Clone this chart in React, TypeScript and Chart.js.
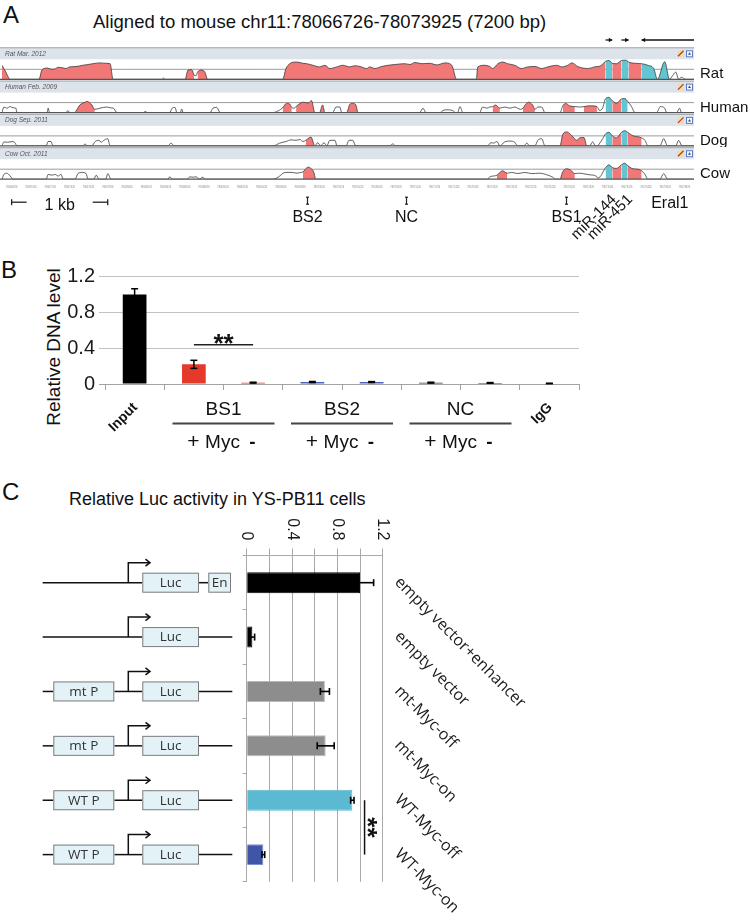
import React, { useEffect, useRef } from 'react';
import { Chart, registerables } from 'chart.js';

Chart.register(...registerables);

const SANS = '"Liberation Sans", Arial, Helvetica, sans-serif';
const OPEN = '"Open Sans", "Liberation Sans", sans-serif';
Chart.defaults.font.family = SANS;

// ================= Panel A data =================
const REGION_START = 78066726;
const REGION_LENGTH = 7200;
const SPECIES = ['Rat', 'Human', 'Dog', 'Cow'];
const ASSEMBLIES = ['Rat Mar. 2012', 'Human Feb. 2009', 'Dog Sep. 2011', 'Cow Oct. 2011'];

// [bp, % identity]
const RAT_CONS: number[][] = [
  [0, 85], [40, 68], [85, 50], [385, 50], [415, 73], [470, 78], [520, 75], [550, 76], [585, 80], [625, 79], [665, 77], [705, 81], [770, 82], [840, 85], [895, 87], [945, 89], [1020, 91], [1080, 90], [1125, 89], [1155, 50],
  [1665, 50], [1680, 53], [1695, 50],
  [1905, 50], [1935, 73], [1975, 74], [2000, 60], [2020, 59], [2035, 68], [2075, 73], [2110, 68], [2140, 50],
  [2920, 50], [2955, 77], [2995, 89], [3045, 93], [3100, 92], [3130, 90], [3170, 89], [3235, 85], [3305, 81], [3360, 85], [3410, 77], [3485, 81], [3545, 85], [3620, 81], [3670, 84], [3725, 82], [3795, 77], [3825, 81], [3880, 77], [3950, 82], [4015, 85], [4090, 87], [4190, 89], [4245, 87], [4295, 92], [4370, 89], [4450, 90], [4525, 86], [4610, 91], [4680, 85], [4730, 50],
  [4935, 50], [4950, 81], [5025, 85], [5075, 82], [5105, 77], [5160, 89], [5210, 93], [5260, 89], [5335, 85], [5405, 77], [5470, 81], [5545, 82], [5615, 77], [5680, 81], [5770, 85], [5825, 81], [5885, 85], [5930, 91], [5990, 82], [6095, 77], [6165, 81], [6230, 84], [6280, 95], [6315, 97], [6350, 90], [6395, 89], [6445, 97], [6490, 98], [6520, 93], [6585, 90], [6655, 89], [6720, 85], [6780, 77], [6820, 50], [6895, 94], [6945, 50], [6980, 60], [7010, 68], [7040, 50], [7070, 55], [7115, 50], [7200, 50],
];
const RAT_PINK: number[][] = [[0, 85], [385, 1155], [1905, 2000], [2035, 2140], [2920, 4730], [4935, 6280], [6350, 6445], [6520, 6655]];
const RAT_CYAN: number[][] = [[6280, 6350], [6445, 6520], [6655, 6945]];

const HUMAN_CONS: number[][] = [
  [0, 50], [20, 64], [50, 61], [85, 65], [115, 62], [145, 61], [155, 50],
  [470, 50], [480, 61], [495, 50], [665, 50], [685, 55], [705, 50],
  [750, 50], [770, 54], [810, 69], [865, 76], [885, 78], [935, 69], [965, 58], [1020, 61], [1090, 64], [1125, 62], [1160, 61], [1195, 50],
  [1470, 50], [1490, 53], [1510, 50],
  [1745, 50], [1770, 61], [1800, 63], [1820, 50], [1855, 50], [1870, 59], [1885, 50],
  [2165, 50], [2195, 61], [2235, 63], [2270, 50],
  [2820, 50], [2870, 54], [2900, 58], [2920, 62], [2960, 73], [2995, 71], [3015, 63], [3035, 61], [3060, 65], [3100, 73], [3135, 76], [3185, 74], [3220, 80], [3255, 50], [3305, 50], [3335, 69], [3360, 50],
  [3440, 50], [3475, 64], [3515, 64], [3535, 50], [3585, 50], [3620, 71], [3650, 73], [3680, 70], [3705, 50],
  [4345, 50], [4380, 61], [4410, 50],
  [4560, 50], [4585, 55], [4630, 57], [4690, 55], [4720, 50], [4740, 50], [4765, 65], [4795, 50],
  [4970, 50], [5000, 64], [5045, 61], [5075, 64], [5105, 65], [5135, 69], [5180, 61], [5230, 64], [5285, 61], [5335, 64], [5365, 61], [5395, 58], [5420, 61], [5450, 71], [5480, 76], [5520, 69], [5545, 58], [5575, 64], [5615, 64], [5650, 50],
  [5805, 50], [5835, 67], [5865, 73], [5905, 67], [5960, 65], [6010, 64], [6055, 65], [6115, 67], [6190, 65], [6220, 55], [6250, 62], [6280, 85], [6315, 88], [6350, 80], [6395, 73], [6445, 84], [6480, 85], [6510, 78], [6550, 65], [6585, 50],
  [6810, 50], [6850, 65], [6895, 61], [6915, 50], [7020, 50], [7050, 61], [7070, 50], [7200, 50],
];
const HUMAN_PINK: number[][] = [[770, 965], [2920, 3015], [3060, 3255], [3305, 3360], [3585, 3705], [5105, 5180], [5420, 5545], [5835, 5960], [6055, 6190], [6350, 6445]];
const HUMAN_CYAN: number[][] = [[6280, 6350], [6445, 6510]];

const DOG_CONS: number[][] = [
  [0, 50], [20, 60], [60, 59], [105, 61], [135, 58], [155, 50],
  [460, 50], [480, 61], [510, 61], [530, 50], [845, 50], [865, 55], [885, 50],
  [935, 50], [970, 61], [1010, 64], [1030, 59], [1060, 64], [1100, 68], [1125, 50],
  [1725, 50], [1760, 57], [1790, 50],
  [2820, 50], [2890, 57], [2955, 61], [3005, 65], [3060, 64], [3100, 66], [3130, 61], [3160, 64], [3195, 70], [3215, 72], [3255, 50], [3285, 58], [3315, 50], [3350, 58], [3380, 50], [3410, 64], [3465, 64], [3485, 50],
  [3580, 50], [3610, 64], [3650, 64], [3680, 50], [4035, 50], [4065, 55], [4095, 50],
  [5055, 50], [5085, 58], [5115, 57], [5150, 61], [5180, 50], [5230, 60], [5285, 62], [5335, 59], [5365, 50], [5430, 50], [5460, 57], [5490, 50], [5545, 50], [5575, 64], [5615, 68], [5650, 50],
  [5805, 50], [5835, 79], [5875, 85], [5915, 79], [5950, 70], [5980, 64], [6010, 70], [6055, 71], [6085, 50], [6115, 50], [6145, 60], [6175, 50], [6195, 50], [6220, 57], [6250, 68], [6280, 80], [6315, 84], [6350, 75], [6395, 70], [6445, 84], [6480, 88], [6510, 84], [6565, 75], [6615, 73], [6655, 70], [6690, 64], [6720, 50],
  [6845, 50], [6885, 68], [6925, 50], [7010, 50], [7040, 64], [7075, 50], [7200, 50],
];
const DOG_PINK: number[][] = [[3160, 3255], [5805, 6085], [6350, 6445], [6510, 6655]];
const DOG_CYAN: number[][] = [[6280, 6350], [6445, 6510]];

const COW_CONS: number[][] = [
  [0, 50], [20, 62], [50, 65], [85, 58], [115, 50],
  [460, 50], [480, 62], [520, 60], [550, 62], [585, 58], [615, 62], [635, 50],
  [760, 50], [790, 64], [830, 67], [875, 64], [895, 50], [955, 50], [980, 60], [1010, 50], [1080, 50], [1100, 64], [1135, 50],
  [1725, 50], [1745, 56], [1770, 50],
  [1925, 50], [1955, 56], [1985, 55], [2020, 56], [2050, 50], [2090, 55], [2110, 50],
  [2820, 50], [2890, 58], [2925, 65], [2965, 67], [3015, 67], [3070, 65], [3110, 67], [3130, 68], [3160, 76], [3185, 80], [3215, 77], [3245, 67], [3265, 50],
  [5055, 50], [5075, 56], [5115, 58], [5150, 60], [5180, 67], [5210, 71], [5255, 65], [5305, 67], [5365, 64], [5440, 67], [5510, 64], [5595, 65], [5680, 60], [5730, 55], [5760, 50],
  [5805, 50], [5835, 69], [5875, 76], [5915, 73], [5960, 64], [6010, 65], [6065, 63], [6115, 61], [6180, 58], [6200, 53], [6230, 58], [6260, 71], [6280, 79], [6315, 86], [6350, 79], [6395, 77], [6445, 86], [6480, 90], [6510, 84], [6565, 76], [6615, 75], [6655, 71], [6690, 62], [6720, 50],
  [6845, 50], [6885, 64], [6925, 50], [7200, 50],
];
const COW_PINK: number[][] = [[3130, 3265], [5150, 5255], [5805, 5960], [6350, 6445], [6510, 6655]];
const COW_CYAN: number[][] = [[6280, 6350], [6445, 6510]];

const GENE_NAMES = ['miR-144', 'miR-451', 'Eral1'];
const GENE_STARTS = [6280, 6445, 6655];
const GENE_ENDS = [6350, 6520, 7200];
const GENE_STRANDS = [1, 1, -1];

const SITE_NAMES = ['BS2', 'NC', 'BS1'];
const SITE_POSITIONS = [3173, 4200, 5868];

const A_TICK_POSITIONS = [100, 300, 500, 700, 900, 1100, 1300, 1500, 1700, 1900, 2100, 2300, 2500, 2700, 2900, 3100, 3300, 3500, 3700, 3900, 4100, 4300, 4500, 4700, 4900, 5100, 5300, 5500, 5700, 5900, 6100, 6300, 6500, 6700, 6900, 7100];
const SCALE_BAR_BP = [100, 1100];

const PINK = '#f27878';
const CYAN = '#62c6d2';

const TRACKS = [
  { cons: RAT_CONS, pink: RAT_PINK, cyan: RAT_CYAN },
  { cons: HUMAN_CONS, pink: HUMAN_PINK, cyan: HUMAN_CYAN },
  { cons: DOG_CONS, pink: DOG_PINK, cyan: DOG_CYAN },
  { cons: COW_CONS, pink: COW_PINK, cyan: COW_CYAN },
];
const TRACK_LAYOUT = [
  { top: 30, height: 51, padTop: 29.3, padBottom: 1.7 },
  { top: 80, height: 34, padTop: 12.6, padBottom: 1.4 },
  { top: 113, height: 34, padTop: 12.9, padBottom: 1.1 },
  { top: 146, height: 104, padTop: 13.2, padBottom: 70.8 },
];

// ================= Panel B data =================
const B_CATEGORIES = ['Input', 'BS1 +Myc', 'BS1 -Myc', 'BS2 +Myc', 'BS2 -Myc', 'NC +Myc', 'NC -Myc', 'IgG'];
const B_VALUES = [1.0, 0.22, 0.015, 0.022, 0.022, 0.015, 0.012, 0.006];
const B_ERRORS = [0.065, 0.045, 0.005, 0.006, 0.005, 0.005, 0.004, 0.003];
const B_COLORS = ['#000000', '#e5392b', '#e5392b', '#4b60c0', '#4b60c0', '#3a3a3a', '#3a3a3a', '#8a8a8a'];
const B_TICK_LABELS = [0, 0.4, 0.8, 1.2];
const B_GROUP_LABELS = ['BS1', 'BS2', 'NC'];
const B_GROUP_FIRST = [1, 3, 5];
const B_ROTATED_TEXT = ['Input', 'IgG'];
const B_ROTATED_INDEX = [0, 7];
const B_SIG_FROM = 1;
const B_SIG_TO = 2;
const B_SIG_LEVEL = 0.44;

// ================= Panel C data =================
const C_CATEGORIES = ['empty vector+enhancer', 'empty vector', 'mt-Myc-off', 'mt-Myc-on', 'WT-Myc-off', 'WT-Myc-on'];
const C_VALUES = [1.0, 0.05, 0.69, 0.697, 0.932, 0.147];
const C_ERRORS = [0.12, 0.02, 0.04, 0.075, 0.015, 0.012];
const C_COLORS = ['#000000', '#000000', '#8d8d8d', '#8d8d8d', '#5bbad1', '#3f56a8'];
const C_BORDERS = ['#000000', '#000000', '#b8b8b8', '#b8b8b8', '#5bbad1', '#7d8fd0'];
const C_PROMOTERS = ['', '', 'mt P', 'mt P', 'WT P', 'WT P'];
const C_ENHANCER = [true, false, false, false, false, false];
const C_TICK_LABELS = [0, 0.4, 0.8, 1.2];
const C_SIG_FROM = 4;
const C_SIG_TO = 5;
const C_SIG_LEVEL = 1.04;

// ================= helpers =================
function inRegions(x0: number, x1: number, regs: number[][]) {
  return regs.some(([s, e]) => x0 >= s && x1 <= e);
}
function segmentFill(pink: number[][], cyan: number[][]) {
  return (ctx: any) => {
    const x0 = ctx.p0.parsed.x;
    const x1 = ctx.p1.parsed.x;
    if (inRegions(x0, x1, cyan)) return CYAN;
    if (inRegions(x0, x1, pink)) return PINK;
    return 'rgba(255,255,255,0)';
  };
}
function hline(ctx: any, x0: number, y0: number, x1: number, y1: number) {
  ctx.beginPath();
  ctx.moveTo(x0, y0);
  ctx.lineTo(x1, y1);
  ctx.stroke();
}

function trackPlugin(i: number) {
  return {
    id: 'track' + i,
    beforeDatasetsDraw(chart: any) {
      const { ctx, chartArea: a, scales } = chart;
      const top = a.top - 12;
      ctx.save();
      ctx.fillStyle = '#dde3ea';
      ctx.fillRect(0, top, a.right, 12);
      ctx.fillStyle = '#a2a7ad';
      ctx.fillRect(0, top, a.right, 1);
      ctx.font = `italic 6.5px ${SANS}`;
      ctx.fillStyle = '#555';
      ctx.textAlign = 'left';
      ctx.textBaseline = 'alphabetic';
      ctx.fillText(ASSEMBLIES[i], 5, top + 8.5);
      // icons
      const ix = a.right - 17;
      ctx.fillStyle = '#f1dcb2';
      ctx.fillRect(ix, top + 3, 7, 7);
      ctx.strokeStyle = '#b23b1c';
      ctx.lineWidth = 1.3;
      hline(ctx, ix + 1, top + 9, ix + 6.5, top + 3.5);
      ctx.fillStyle = '#f6f8fc';
      ctx.fillRect(a.right - 8, top + 3, 7, 7);
      ctx.strokeStyle = '#5b7cc0';
      ctx.lineWidth = 1;
      ctx.strokeRect(a.right - 7.5, top + 3.5, 6, 6);
      ctx.fillStyle = '#2b4c94';
      ctx.beginPath();
      ctx.moveTo(a.right - 6, top + 7.5);
      ctx.lineTo(a.right - 3, top + 7.5);
      ctx.lineTo(a.right - 4.5, top + 5);
      ctx.closePath();
      ctx.fill();
      // 75% line
      const ym = scales.y.getPixelForValue(75);
      ctx.strokeStyle = '#9b9b9b';
      ctx.lineWidth = 1;
      hline(ctx, 0, ym, a.right, ym);
      ctx.restore();
    },
    afterDatasetsDraw(chart: any) {
      const { ctx, chartArea: a, scales } = chart;
      const yb = scales.y.getPixelForValue(50);
      ctx.save();
      ctx.strokeStyle = '#555';
      ctx.lineWidth = 1.3;
      hline(ctx, 0, yb, a.right, yb);
      ctx.restore();
    },
    afterDraw(chart: any) {
      const { ctx, chartArea: a, scales } = chart;
      const xs = scales.x;
      ctx.save();
      ctx.fillStyle = '#111';
      ctx.font = `15px ${SANS}`;
      ctx.textAlign = 'left';
      ctx.textBaseline = 'alphabetic';
      ctx.fillText(SPECIES[i], a.right + 6, a.bottom - 1);
      if (i === 0) {
        const ya = a.top - 19.3;
        ctx.strokeStyle = '#111';
        ctx.fillStyle = '#111';
        ctx.lineWidth = 1.3;
        GENE_NAMES.forEach((_, g) => {
          const x0 = xs.getPixelForValue(GENE_STARTS[g]);
          const x1 = xs.getPixelForValue(GENE_ENDS[g]);
          hline(ctx, x0, ya, x1, ya);
          const hx = GENE_STRANDS[g] > 0 ? x1 : x0;
          const d = GENE_STRANDS[g] > 0 ? -3.5 : 3.5;
          ctx.beginPath();
          ctx.moveTo(hx, ya);
          ctx.lineTo(hx + d, ya - 2.2);
          ctx.lineTo(hx + d, ya + 2.2);
          ctx.closePath();
          ctx.fill();
        });
      }
      if (i === 3) {
        const b = a.bottom;
        // coordinate tick labels
        ctx.fillStyle = '#8a8a8a';
        ctx.font = `2.6px ${SANS}`;
        ctx.textAlign = 'center';
        A_TICK_POSITIONS.forEach((p) => ctx.fillText(String(REGION_START + p), xs.getPixelForValue(p), b + 9));
        // binding sites
        ctx.strokeStyle = '#222';
        ctx.fillStyle = '#111';
        ctx.lineWidth = 1.2;
        ctx.font = `16px ${SANS}`;
        SITE_NAMES.forEach((n, s) => {
          const px = Math.round(xs.getPixelForValue(SITE_POSITIONS[s])) + 0.5;
          hline(ctx, px, b + 18, px, b + 25);
          hline(ctx, px - 1.5, b + 18, px + 1.5, b + 18);
          hline(ctx, px - 1.5, b + 25, px + 1.5, b + 25);
          ctx.fillText(n, px, b + 42.5);
        });
        // scale bar
        const sy = b + 23;
        const s0 = xs.getPixelForValue(SCALE_BAR_BP[0]);
        const s1 = xs.getPixelForValue(SCALE_BAR_BP[1]);
        ctx.lineWidth = 1.3;
        hline(ctx, s0, sy, s0 + 15, sy);
        hline(ctx, s0, sy - 3, s0, sy + 3);
        hline(ctx, s1 - 15, sy, s1, sy);
        hline(ctx, s1, sy - 3, s1, sy + 3);
        ctx.fillText('1 kb', (s0 + s1) / 2, b + 31);
        // gene labels
        ctx.font = `15px ${SANS}`;
        GENE_NAMES.forEach((n, g) => {
          const c = xs.getPixelForValue((GENE_STARTS[g] + GENE_ENDS[g]) / 2);
          if (GENE_ENDS[g] - GENE_STARTS[g] < 200) {
            ctx.save();
            ctx.translate(c + 8, b + 21);
            ctx.rotate(-Math.PI / 4);
            ctx.textAlign = 'right';
            ctx.fillText(n, 0, 0);
            ctx.restore();
          } else {
            ctx.font = `16px ${SANS}`;
            ctx.textAlign = 'center';
            ctx.fillText(n, c + 2, b + 29);
          }
        });
      }
      ctx.restore();
    },
  };
}

function trackConfig(i: number): any {
  const t = TRACKS[i];
  const L = TRACK_LAYOUT[i];
  return {
    type: 'line',
    data: {
      datasets: [
        {
          data: t.cons.map(([x, y]) => ({ x, y })),
          borderColor: '#3a3a3a',
          borderWidth: 0.8,
          pointRadius: 0,
          fill: 'start',
          backgroundColor: 'rgba(0,0,0,0)',
          cubicInterpolationMode: 'monotone',
          segment: { backgroundColor: segmentFill(t.pink, t.cyan) },
        },
      ],
    },
    options: {
      animation: false,
      responsive: false,
      events: [],
      layout: { padding: { left: 2, right: 56, top: L.padTop, bottom: L.padBottom } },
      scales: {
        x: { type: 'linear', min: 0, max: REGION_LENGTH, display: false },
        y: { type: 'linear', min: 50, max: 100, display: false },
      },
      plugins: { legend: { display: false }, tooltip: { enabled: false } },
    },
    plugins: [trackPlugin(i)],
  };
}

const chipPlugin = {
  id: 'chipDecor',
  afterDatasetsDraw(chart: any) {
    const { ctx, scales } = chart;
    const { x, y } = scales;
    ctx.save();
    ctx.strokeStyle = '#000';
    ctx.lineWidth = 1.5;
    B_VALUES.forEach((v, i) => {
      const cx = x.getPixelForValue(i);
      const yt = y.getPixelForValue(v + B_ERRORS[i]);
      const yb = y.getPixelForValue(Math.max(0, v - B_ERRORS[i]));
      hline(ctx, cx, yt, cx, yb);
      hline(ctx, cx - 3.5, yt, cx + 3.5, yt);
      hline(ctx, cx - 3.5, yb, cx + 3.5, yb);
    });
    ctx.restore();
  },
  afterDraw(chart: any) {
    const { ctx, chartArea: a, scales } = chart;
    const { x, y } = scales;
    ctx.save();
    ctx.fillStyle = '#111';
    ctx.strokeStyle = '#222';
    // significance
    const ys = y.getPixelForValue(B_SIG_LEVEL);
    const x0 = x.getPixelForValue(B_SIG_FROM);
    const x1 = x.getPixelForValue(B_SIG_TO);
    ctx.lineWidth = 1.5;
    hline(ctx, x0, ys, x1, ys);
    ctx.font = `bold 26px ${SANS}`;
    ctx.textAlign = 'center';
    ctx.textBaseline = 'middle';
    ctx.fillText('**', (x0 + x1) / 2, ys + 0.5);
    ctx.textBaseline = 'alphabetic';
    // rotated single labels
    ctx.font = `bold 14px ${SANS}`;
    B_ROTATED_TEXT.forEach((t, k) => {
      const cx = x.getPixelForValue(B_ROTATED_INDEX[k]);
      ctx.save();
      ctx.translate(cx + 3.5, a.bottom + 24);
      ctx.rotate(-Math.PI / 4);
      ctx.textAlign = 'right';
      ctx.fillText(t, 0, 0);
      ctx.restore();
    });
    // grouped labels
    B_GROUP_LABELS.forEach((g, k) => {
      const c = (x.getPixelForValue(B_GROUP_FIRST[k]) + x.getPixelForValue(B_GROUP_FIRST[k] + 1)) / 2;
      ctx.font = `19px ${SANS}`;
      ctx.textAlign = 'center';
      ctx.fillText(g, c, a.bottom + 31.3);
      ctx.strokeStyle = '#444';
      ctx.lineWidth = 2;
      hline(ctx, c - 51, a.bottom + 39.5, c + 51, a.bottom + 39.5);
      ctx.font = `21px ${SANS}`;
      ctx.fillText('+', c - 30, a.bottom + 63.5);
      ctx.font = `19px ${SANS}`;
      ctx.fillText('Myc', c - 1, a.bottom + 63.5);
      ctx.font = `bold 19px ${SANS}`;
      ctx.fillText('-', c + 29, a.bottom + 63.5);
    });
    ctx.restore();
  },
};

function chipConfig(): any {
  return {
    type: 'bar',
    data: {
      labels: B_CATEGORIES,
      datasets: [{ data: B_VALUES, backgroundColor: B_COLORS, borderWidth: 0, barPercentage: 0.4, categoryPercentage: 1 }],
    },
    options: {
      animation: false,
      responsive: false,
      events: [],
      layout: { padding: { left: 0, right: 21, top: 26.7, bottom: 70 } },
      scales: {
        x: {
          grid: { offset: true, drawOnChartArea: false, tickLength: 6, color: '#a3a3a3' },
          border: { color: '#a3a3a3', width: 1 },
          ticks: { display: false },
          afterFit: (s: any) => { s.height = 6; },
        },
        y: {
          min: 0,
          max: 1.2,
          ticks: {
            stepSize: 0.2,
            padding: 4,
            color: '#1a1a1a',
            font: { size: 20, family: SANS },
            callback: (v: any) => {
              const r = Math.round(Number(v) * 10) / 10;
              return B_TICK_LABELS.includes(r) ? String(r) : '';
            },
          },
          grid: { color: (c: any) => (c.tick && c.tick.value === 0 ? '#a3a3a3' : '#c2c2c2'), tickLength: 6 },
          border: { display: false },
          afterFit: (s: any) => { s.width = 105; },
        },
      },
      plugins: { legend: { display: false }, tooltip: { enabled: false } },
    },
    plugins: [chipPlugin],
  };
}

function drawBox(ctx: any, x: number, cy: number, w: number, text: string) {
  ctx.fillStyle = '#e3f2f7';
  ctx.fillRect(x, cy - 10, w, 20);
  ctx.strokeStyle = '#7d7d7d';
  ctx.lineWidth = 1;
  ctx.strokeRect(x + 0.5, cy - 9.5, w - 1, 19);
  ctx.fillStyle = '#333';
  ctx.font = `13.5px ${OPEN}`;
  ctx.textAlign = 'center';
  ctx.textBaseline = 'middle';
  ctx.fillText(text, x + w / 2, cy + 0.5);
}

const lucPlugin = {
  id: 'lucDecor',
  afterDraw(chart: any) {
    const { ctx, chartArea: a, scales } = chart;
    const { x, y } = scales;
    ctx.save();
    // value axis labels (rotated)
    ctx.fillStyle = '#1a1a1a';
    ctx.font = `16px ${SANS}`;
    C_TICK_LABELS.forEach((v) => {
      ctx.save();
      ctx.translate(x.getPixelForValue(v), a.top - 15);
      ctx.rotate(Math.PI / 2);
      ctx.textAlign = 'right';
      ctx.textBaseline = 'middle';
      ctx.fillText(String(v), 0, 0);
      ctx.restore();
    });
    // error bars
    ctx.strokeStyle = '#000';
    ctx.lineWidth = 1.6;
    C_VALUES.forEach((v, i) => {
      const cy = y.getPixelForValue(i);
      const xl = x.getPixelForValue(v - C_ERRORS[i]);
      const xr = x.getPixelForValue(v + C_ERRORS[i]);
      hline(ctx, xl, cy, xr, cy);
      hline(ctx, xl, cy - 3.5, xl, cy + 3.5);
      hline(ctx, xr, cy - 3.5, xr, cy + 3.5);
    });
    // construct diagrams
    C_CATEGORIES.forEach((_, i) => {
      const cy = y.getPixelForValue(i);
      ctx.strokeStyle = '#111';
      ctx.lineWidth = 1.5;
      if (C_PROMOTERS[i]) {
        hline(ctx, 42.7, cy, 53.3, cy);
        hline(ctx, 114.3, cy, 142.3, cy);
      } else {
        hline(ctx, 42.7, cy, 142.3, cy);
      }
      ctx.beginPath();
      ctx.moveTo(128.3, cy);
      ctx.lineTo(128.3, cy - 20);
      ctx.lineTo(149.5, cy - 20);
      ctx.stroke();
      ctx.beginPath();
      ctx.moveTo(145.5, cy - 23.5);
      ctx.lineTo(150, cy - 20);
      ctx.lineTo(145.5, cy - 16.5);
      ctx.stroke();
      if (C_ENHANCER[i]) hline(ctx, 199, cy, 208.3, cy);
      else hline(ctx, 199, cy, 232.3, cy);
      if (C_PROMOTERS[i]) drawBox(ctx, 53.3, cy, 61, C_PROMOTERS[i]);
      drawBox(ctx, 142.3, cy, 56.7, 'Luc');
      if (C_ENHANCER[i]) drawBox(ctx, 208.3, cy, 22.7, 'En');
    });
    // right labels
    ctx.fillStyle = '#1a1a1a';
    ctx.font = `16px ${OPEN}`;
    C_CATEGORIES.forEach((lab, i) => {
      const cy = y.getPixelForValue(i);
      ctx.save();
      ctx.translate(a.right + 14.5, cy - 3);
      ctx.rotate(Math.PI / 4);
      ctx.textAlign = 'left';
      ctx.textBaseline = 'middle';
      ctx.fillText(lab, 0, 0);
      ctx.restore();
    });
    // significance
    const sx = x.getPixelForValue(C_SIG_LEVEL);
    const y0 = y.getPixelForValue(C_SIG_FROM);
    const y1 = y.getPixelForValue(C_SIG_TO);
    ctx.strokeStyle = '#111';
    ctx.lineWidth = 1.5;
    hline(ctx, sx, y0, sx, y1);
    ctx.save();
    ctx.translate(sx + 2, (y0 + y1) / 2);
    ctx.rotate(Math.PI / 2);
    ctx.font = `bold 26px ${SANS}`;
    ctx.fillStyle = '#111';
    ctx.textAlign = 'center';
    ctx.textBaseline = 'middle';
    ctx.fillText('**', 0, 0);
    ctx.restore();
    ctx.restore();
  },
};

function lucConfig(): any {
  return {
    type: 'bar',
    data: {
      labels: C_CATEGORIES,
      datasets: [{ data: C_VALUES, backgroundColor: C_COLORS, borderColor: C_BORDERS, borderWidth: 1, barPercentage: 0.385, categoryPercentage: 1 }],
    },
    options: {
      indexAxis: 'y',
      animation: false,
      responsive: false,
      events: [],
      layout: { padding: { left: 242.7, right: 367.3, top: 48.5, bottom: 40.2 } },
      scales: {
        x: {
          position: 'top',
          min: 0,
          max: 1.2,
          ticks: { stepSize: 0.2, display: false },
          grid: { color: '#a9a9a9', tickLength: 7 },
          border: { color: '#a9a9a9' },
          afterFit: (s: any) => { s.height = 7; },
        },
        y: {
          grid: { offset: true, drawOnChartArea: false, tickLength: 4, color: '#a9a9a9' },
          border: { color: '#a9a9a9' },
          ticks: { display: false },
          afterFit: (s: any) => { s.width = 4; },
        },
      },
      plugins: { legend: { display: false }, tooltip: { enabled: false } },
    },
    plugins: [lucPlugin],
  };
}

function ChartCanvas(props: { left: number; top: number; width: number; height: number; make: () => any }) {
  const ref = useRef<HTMLCanvasElement>(null);
  useEffect(() => {
    const chart = new Chart(ref.current as HTMLCanvasElement, props.make());
    return () => chart.destroy();
  }, []);
  return (
    <canvas
      ref={ref}
      width={props.width}
      height={props.height}
      style={{ position: 'absolute', left: props.left, top: props.top, width: props.width, height: props.height }}
    />
  );
}

function Txt(props: { x: number; y: number; size: number; text: string; weight?: number }) {
  return (
    <div
      style={{
        position: 'absolute',
        left: props.x,
        top: props.y - 0.8465 * props.size,
        fontSize: props.size,
        lineHeight: 1,
        fontFamily: SANS,
        fontWeight: props.weight || 400,
        whiteSpace: 'nowrap',
        color: '#111',
      }}
    >
      {props.text}
    </div>
  );
}

export default function App() {
  return (
    <div style={{ position: 'absolute', left: 0, top: 0, width: 750, height: 922, background: '#fff', overflow: 'hidden' }}>
      <Txt x={3} y={23.3} size={24} text="A" />
      <Txt x={93} y={28.3} size={18.5} text="Aligned to mouse chr11:78066726-78073925 (7200 bp)" />
      {TRACK_LAYOUT.map((L, i) => (
        <ChartCanvas key={i} left={0} top={L.top} width={750} height={L.height} make={() => trackConfig(i)} />
      ))}
      <Txt x={1} y={278.3} size={24} text="B" />
      <div
        style={{
          position: 'absolute',
          left: 60 - 0.8465 * 19,
          top: 346.5,
          fontSize: 19,
          lineHeight: 1,
          fontFamily: SANS,
          whiteSpace: 'nowrap',
          color: '#111',
          transformOrigin: '0 0',
          transform: 'rotate(-90deg) translateX(-50%)',
        }}
      >
        Relative DNA level
      </div>
      <ChartCanvas left={0} top={250} width={600} height={210} make={chipConfig} />
      <Txt x={2} y={500} size={24} text="C" />
      <Txt x={69} y={505.7} size={18} text="Relative Luc activity in YS-PB11 cells" />
      <ChartCanvas left={0} top={500} width={750} height={422} make={lucConfig} />
    </div>
  );
}
